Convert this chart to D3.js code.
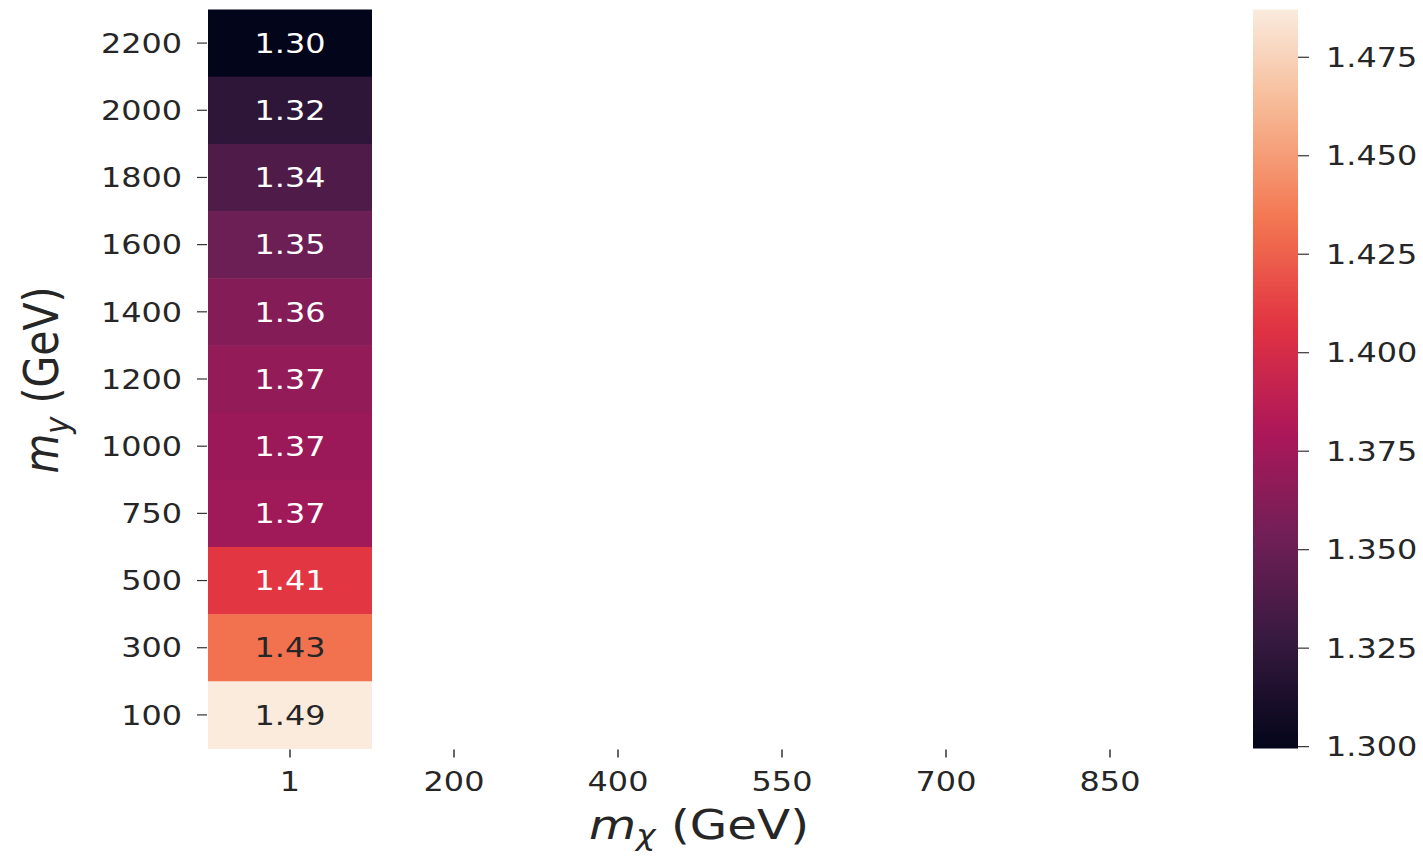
<!DOCTYPE html>
<html>
<head>
<meta charset="utf-8">
<script src="https://cdn.jsdelivr.net/npm/d3@7"></script>
<style>
  html, body { margin: 0; padding: 0; background: #ffffff; }
  svg { display: block; }
  text { font-family: "DejaVu Sans", sans-serif; fill: #262626; }
</style>
</head>
<body>
<svg id="chart" width="1423" height="856"></svg>
<script>
// ---- data ----
const xCategories = ["1", "200", "400", "550", "700", "850"];
const yCategories = ["2200", "2000", "1800", "1600", "1400", "1200", "1000", "750", "500", "300", "100"];
// values for m_chi = 1 (other columns are empty)
const valuesMchi1 = [1.2994, 1.322, 1.338, 1.351, 1.362, 1.368, 1.372, 1.374, 1.408, 1.432, 1.487];
const colorbarTicks = [1.300, 1.325, 1.350, 1.375, 1.400, 1.425, 1.450, 1.475];
// seaborn "rocket" colormap anchor colours
const rocketStops = ["#03051a", "#35193e", "#701f57", "#ad1759", "#e13342", "#f37651", "#f6b48f", "#faebdd"];

const cells = yCategories.map((y, i) => ({ x: "1", y: y, v: valuesMchi1[i] }));

// ---- layout ----
const SX = 1.18; // horizontal stretch of the reference picture
const FS = "27px";
const svg = d3.select("#chart");
const plot = { left: 208, right: 1192, top: 9.5, bottom: 748.5 };
const cbar = { left: 1253, right: 1298 };

const x = d3.scaleBand().domain(xCategories).range([plot.left, plot.right]);
const y = d3.scaleBand().domain(yCategories).range([plot.top, plot.bottom]);

const vmin = d3.min(valuesMchi1), vmax = d3.max(valuesMchi1);
const rocket = d3.piecewise(d3.interpolateRgb, rocketStops);
const color = d3.scaleSequential(rocket).domain([vmin, vmax]);

// ---- cells ----
svg.append("g").selectAll("rect").data(cells).join("rect")
  .attr("x", d => x(d.x)).attr("y", d => y(d.y))
  .attr("width", x.bandwidth()).attr("height", y.bandwidth() + 0.5)
  .attr("fill", d => color(d.v));

const fmt = d3.format(".2f");
svg.append("g").selectAll("text").data(cells).join("text")
  .attr("transform", d => `translate(${x(d.x) + x.bandwidth() / 2},${y(d.y) + y.bandwidth() / 2}) scale(${SX},1)`)
  .attr("text-anchor", "middle").attr("dy", "0.36em")
  .style("font-size", FS)
  .style("fill", d => (d3.hsl(color(d.v)).l > 0.6 ? "#262626" : "#ffffff"))
  .text(d => fmt(d.v));

// ---- axes ----
function styleAxis(g) {
  g.select(".domain").remove();
  g.selectAll(".tick line").attr("stroke", "#333333").attr("stroke-width", 1.2);
  g.selectAll(".tick text").style("font-size", FS).attr("fill", "#262626");
}

const yAxis = svg.append("g").attr("transform", `translate(${plot.left - 1},0)`)
  .call(d3.axisLeft(y).tickSize(10).tickPadding(0));
styleAxis(yAxis);
yAxis.selectAll(".tick text").attr("x", null).attr("dy", "0.36em")
  .attr("transform", `translate(-25,0) scale(${SX},1)`);

const xAxis = svg.append("g").attr("transform", `translate(0,${plot.bottom + 1})`)
  .call(d3.axisBottom(x).tickSize(8).tickPadding(0));
styleAxis(xAxis);
xAxis.selectAll(".tick line").attr("stroke-width", 1.5);
xAxis.selectAll(".tick text").attr("y", null).attr("dy", null)
  .attr("transform", `translate(0,41) scale(${SX},1)`);

// ---- axis labels ----
const xl = svg.append("text")
  .attr("transform", `translate(699,839) scale(${SX},1)`)
  .attr("text-anchor", "middle").style("font-size", "41px");
xl.append("tspan").style("font-style", "italic").text("m");
xl.append("tspan").style("font-style", "italic").style("font-size", "28px").attr("dy", "6").text("χ");
xl.append("tspan").attr("dy", "-6").text(" (GeV)");

const yl = svg.append("text")
  .attr("transform", `translate(58,380) scale(${SX},1) rotate(-90)`)
  .attr("text-anchor", "middle").style("font-size", "41px");
yl.append("tspan").style("font-style", "italic").text("m");
yl.append("tspan").style("font-style", "italic").style("font-size", "29px").attr("dy", "9").text("y");
yl.append("tspan").attr("dy", "-9").text(" (GeV)");

// ---- colorbar ----
const cy = d3.scaleLinear().domain([vmin, vmax]).range([plot.bottom, plot.top]);
const grad = svg.append("defs").append("linearGradient").attr("id", "cbgrad")
  .attr("x1", 0).attr("y1", 1).attr("x2", 0).attr("y2", 0);
d3.range(0, 1.0001, 0.02).forEach(t => {
  grad.append("stop").attr("offset", t).attr("stop-color", rocket(t));
});
svg.append("rect").attr("x", cbar.left).attr("y", plot.top)
  .attr("width", cbar.right - cbar.left).attr("height", plot.bottom - plot.top)
  .attr("fill", "url(#cbgrad)");

const cAxis = svg.append("g").attr("transform", `translate(${cbar.right},0)`)
  .call(d3.axisRight(cy).tickValues(colorbarTicks).tickFormat(d3.format(".3f")).tickSize(11).tickPadding(0));
styleAxis(cAxis);
cAxis.selectAll(".tick text").attr("x", null).attr("dy", "0.36em")
  .attr("transform", `translate(28,0) scale(${SX},1)`);
</script>
</body>
</html>
